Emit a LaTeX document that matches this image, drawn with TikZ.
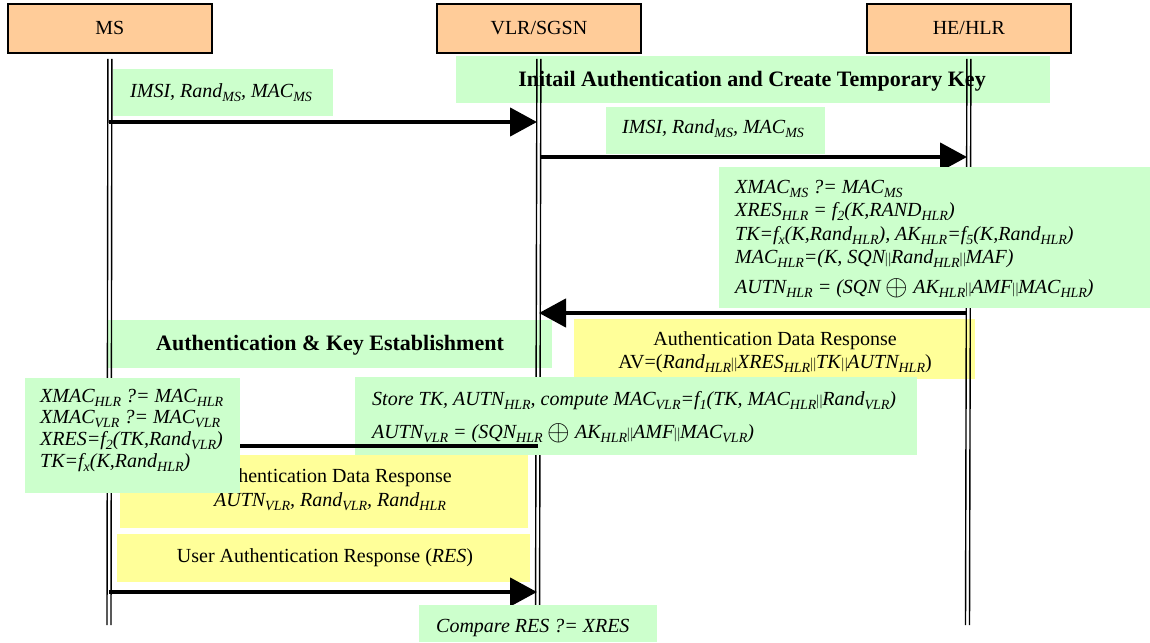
\documentclass[tikz,border=0pt]{standalone}
\usepackage{fontspec}
\setmainfont{Liberation Serif}[Ligatures=TeX]
\usetikzlibrary{arrows.meta}
\definecolor{hdrfill}{HTML}{FFCC99}
\definecolor{grnfill}{HTML}{CCFFCC}
\definecolor{ylwfill}{HTML}{FFFF99}
% subscript, concatenation bars and exclusive-or sign
\newcommand{\dn}[1]{\raisebox{-0.22em}{\scalebox{0.7}{#1}}}
\newcommand{\bars}{\scalebox{0.62}[0.75]{\textup{|\kern0.08em|}}}
\newcommand{\xor}{\raisebox{-0.1em}{\scalebox{1.4}{$\oplus$}}}
\begin{document}
\begin{tikzpicture}[x=1pt,y=-1pt,
  every node/.style={font=\rmfamily\fontsize{20}{23.5}\selectfont},
  hdrbox/.style={draw=black, line width=1.8pt, fill=hdrfill, minimum width=204pt, minimum height=49pt, inner sep=0pt, anchor=north west},
  gbox/.style={fill=grnfill, inner sep=0pt, anchor=north west},
  ybox/.style={fill=ylwfill, inner sep=0pt, anchor=north west},
  txt/.style={inner sep=0pt, anchor=base west, font=\rmfamily\fontsize{20}{23.5}\selectfont\itshape},
  ctxt/.style={inner sep=0pt, anchor=base},
  ttl/.style={inner sep=0pt, anchor=base, font=\rmfamily\fontsize{22}{26}\selectfont\bfseries},
  life/.style={line width=1.4pt},
  msg/.style={line width=4.5pt, -{Triangle[length=27pt,width=28pt]}}
]
\useasboundingbox (0,0) rectangle (1150,642);

% entity headers
\node[hdrbox] (ms)  at (7,3)   {MS};
\node[hdrbox] (vlr) at (436,3) {VLR/SGSN};
\node[hdrbox] (hlr) at (866,3) {HE/HLR};

% background boxes that the lifelines cross
\node[gbox, minimum width=220pt, minimum height=47pt] (b1) at (113,69) {};
\node[gbox, minimum width=594pt, minimum height=47pt] (b2) at (456,56) {};
\node[gbox, minimum width=219pt, minimum height=47pt] (b3) at (606,107) {};
\node[gbox, minimum width=444pt, minimum height=48pt] (b5) at (108,320) {};
\node[ybox, minimum width=401pt, minimum height=60pt] (b6) at (574,319) {};
\node[ybox, minimum width=408pt, minimum height=73pt] (b9) at (120,455) {};
\node[ybox, minimum width=413pt, minimum height=48pt] (b10) at (117,534) {};

\node[txt] (t1) at (130,97) {IMSI, Rand\dn{MS}, MAC\dn{MS}};
\node[ttl] (t2) at (752,86) {Initail Authentication and Create Temporary Key};
\node[txt] (t3) at (622,133) {IMSI, Rand\dn{MS}, MAC\dn{MS}};
\node[ttl] (t5) at (330,350) {Authentication \& Key Establishment};
\node[ctxt] (t6a) at (775,345) {Authentication Data Response};
\node[ctxt] (t6b) at (775,368) {AV=(\textit{Rand\dn{HLR}}\bars\textit{XRES\dn{HLR}}\bars\textit{TK}\bars\textit{AUTN\dn{HLR}})};
\node[ctxt] (t9a) at (330,482) {Authentication Data Response};
\node[ctxt] (t9b) at (330,506) {\textit{AUTN\dn{VLR}, Rand\dn{VLR}, Rand\dn{HLR}}};
\node[ctxt] (t10) at (325,562) {User Authentication Response (\textit{RES})};

% lifelines
\coordinate (msend)  at (109,625);
\coordinate (vlrend) at (537.5,625);
\coordinate (hlrend) at (967.5,625);
\foreach \e/\f in {ms/msend, vlr/vlrend, hlr/hlrend}{
  \draw[life] ([xshift=-2pt,yshift=-5pt]\e.south) -- ([xshift=-2pt]\f);
  \draw[life] ([xshift=2pt,yshift=-5pt]\e.south) -- ([xshift=2pt]\f);
}

% message end points
\coordinate (ms1)  at (109,122);   \coordinate (vlr1) at (537,122);
\coordinate (vlr2) at (540,157);   \coordinate (hlr2) at (967,157);
\coordinate (hlr3) at (967,313);   \coordinate (vlr3) at (539,313);
\coordinate (vlr4) at (538,446);   \coordinate (ms4)  at (110,446);
\coordinate (ms5)  at (109,592);   \coordinate (vlr5) at (537,592);

\draw[msg] (ms1) -- (vlr1);
\draw[msg] (vlr2) -- (hlr2);
\draw[msg] (hlr3) -- (vlr3);
\draw[msg] (ms5) -- (vlr5);

% HLR computation
\node[gbox, minimum width=431pt, minimum height=141pt] (b4) at (719,167) {};
\node[txt] (t4a) at (735,193) {XMAC\dn{MS} ?= MAC\dn{MS}};
\node[txt] (t4b) at (735,216) {XRES\dn{HLR} = f\dn{2}(K,RAND\dn{HLR})};
\node[txt] (t4c) at (735,240) {TK=f\dn{x}(K,Rand\dn{HLR}), AK\dn{HLR}=f\dn{5}(K,Rand\dn{HLR})};
\node[txt] (t4d) at (735,263) {MAC\dn{HLR}=(K, SQN\bars Rand\dn{HLR}\bars MAF)};
\node[txt] (t4e) at (735,293) {AUTN\dn{HLR} = (SQN \xor{} AK\dn{HLR}\bars AMF\bars MAC\dn{HLR})};

% VLR computation
\node[gbox, minimum width=562pt, minimum height=78pt] (b7) at (355,377) {};
\node[txt] (t7a) at (372,405) {Store TK, AUTN\dn{HLR}, compute MAC\dn{VLR}=f\dn{1}(TK, MAC\dn{HLR}\bars Rand\dn{VLR})};
\node[txt] (t7b) at (372,438) {AUTN\dn{VLR} = (SQN\dn{HLR} \xor{} AK\dn{HLR}\bars AMF\bars MAC\dn{VLR})};

\draw[msg] (vlr4) -- (ms4);

% MS computation
\node[gbox, minimum width=215pt, minimum height=115pt] (b8) at (25,378) {};
\node[txt] (t8a) at (40,402) {XMAC\dn{HLR} ?= MAC\dn{HLR}};
\node[txt] (t8b) at (40,423) {XMAC\dn{VLR} ?= MAC\dn{VLR}};
\node[txt] (t8c) at (40,445) {XRES=f\dn{2}(TK,Rand\dn{VLR})};
\node[txt] (t8d) at (40,467) {TK=f\dn{x}(K,Rand\dn{HLR})};

% final check at the VLR
\node[gbox, minimum width=238pt, minimum height=37pt] (b11) at (419,605) {};
\node[txt] (t11) at (436,632) {Compare RES ?= XRES};
\end{tikzpicture}
\end{document}
